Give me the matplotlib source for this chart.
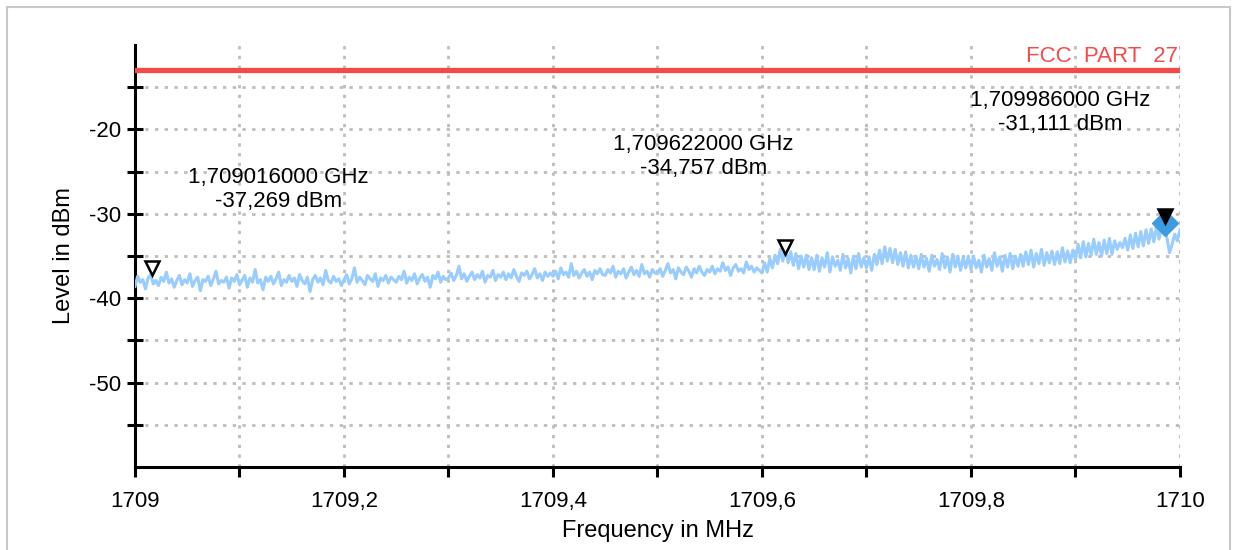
import matplotlib.pyplot as plt
import matplotlib.transforms as mtransforms
from matplotlib.patches import Rectangle
import numpy as np

plt.rcParams['font.family'] = ['Liberation Sans', 'DejaVu Sans']
plt.rcParams['axes.unicode_minus'] = False

# spectrum trace, 1709.000 .. 1710.000 MHz, step 0.0025 MHz
freq_start = 1709.0
freq_step = 0.0025
level = [
    -38.6, -37.4, -38.1, -37.8, -38.9, -37.6, -37.2, -38.3, -37.9, -38.5,
    -37.5, -38.0, -36.9, -38.2, -37.7, -38.7, -37.9, -37.3, -38.4, -37.8,
    -38.2, -37.1, -38.6, -37.9, -37.5, -39.1, -37.8, -38.0, -37.4, -38.5,
    -37.7, -36.8, -38.3, -37.9, -38.1, -37.5, -38.8, -37.6, -38.0, -37.2,
    -38.4, -37.9, -37.3, -38.7, -37.6, -38.1, -36.6, -38.2, -37.8, -39.0,
    -37.5, -38.0, -37.4, -38.3, -37.7, -36.9, -38.5, -37.8, -38.1, -37.3,
    -38.0, -37.6, -38.6, -37.2, -37.9, -38.3, -37.5, -39.2, -37.8, -37.3,
    -38.1, -37.6, -38.4, -36.7, -37.9, -38.2, -37.4, -38.0, -37.7, -38.5,
    -37.8, -37.2, -38.3, -37.7, -36.4, -38.1, -37.5, -37.9, -38.4, -37.3,
    -37.7, -38.0, -37.1, -38.6, -37.6, -37.9, -37.3, -38.2, -37.5, -37.8,
    -38.1, -37.4, -37.8, -36.8, -38.2, -37.5, -37.9, -37.1, -38.3, -37.6,
    -37.2, -38.0, -37.5, -38.7, -37.3, -37.7, -36.9, -38.1, -37.4, -37.8,
    -37.6, -37.0, -37.9, -37.3, -36.2, -37.7, -37.1, -38.0, -37.4, -36.9,
    -37.8, -37.2, -37.6, -36.8, -38.1, -37.3, -37.5, -36.7, -37.9, -37.2,
    -37.5, -36.9, -37.8, -37.1, -37.6, -36.6, -37.4, -38.0, -37.0, -37.3,
    -36.8, -37.7, -37.2, -36.5, -37.6, -37.1, -37.9, -36.9, -37.4, -37.0,
    -37.4, -36.8, -37.7, -36.4, -37.2, -36.9, -37.5, -35.9, -37.3, -36.8,
    -37.6, -37.0, -36.6, -37.4, -36.9, -37.8, -36.7, -37.1, -36.5, -37.2,
    -37.3, -36.6, -37.0, -36.2, -37.5, -36.8, -37.1, -36.5, -37.6, -36.9,
    -36.3, -37.2, -36.7, -37.4, -36.0, -37.1, -36.8, -37.5, -36.6, -37.0,
    -37.1, -36.5, -37.4, -36.7, -35.9, -37.0, -36.6, -37.7, -36.4, -36.9,
    -37.2, -36.3, -36.8, -37.5, -36.5, -37.0, -36.2, -36.9, -37.3, -36.6,
    -36.9, -36.2, -37.1, -36.5, -36.8, -35.8, -36.7, -36.3, -37.3, -36.4,
    -36.0, -36.8, -36.5, -37.0, -35.7, -36.6, -36.2, -36.9, -36.4, -36.7,
    -37.0, -35.8, -36.9, -35.3, -36.4, -34.9, -35.9, -34.2, -35.6, -34.0,
    -35.8, -34.5, -36.1, -34.7, -36.5, -35.0, -36.3, -34.9, -36.6, -35.2,
    -36.6, -34.9, -36.8, -35.2, -36.3, -34.6, -36.9, -35.1, -36.2, -35.5,
    -36.7, -34.8, -36.4, -35.3, -37.0, -35.0, -36.5, -34.7, -36.3, -35.2,
    -36.4, -35.1, -36.7, -34.8, -36.0, -34.3, -35.9, -33.9, -35.6, -34.1,
    -35.8, -34.2, -36.0, -34.6, -36.2, -34.5, -36.4, -34.9, -36.3, -35.0,
    -36.5, -34.8, -36.3, -35.3, -36.8, -34.9, -36.2, -35.4, -36.6, -34.7,
    -36.4, -35.1, -36.9, -34.8, -36.3, -35.0, -36.7, -35.2, -36.4, -35.0,
    -36.6, -35.0, -36.4, -35.5, -36.9, -34.9, -36.3, -35.3, -36.7, -34.6,
    -36.2, -35.1, -36.8, -34.9, -36.3, -34.7, -36.5, -35.0, -36.2, -34.8,
    -36.2, -34.5, -36.0, -34.3, -36.3, -34.7, -35.9, -34.2, -36.1, -34.6,
    -35.8, -34.4, -36.0, -34.5, -35.9, -34.0, -35.7, -34.4, -35.8, -34.3,
    -35.4, -33.6, -35.2, -33.3, -35.1, -33.5, -34.9, -33.0, -34.8, -33.4,
    -35.0, -33.1, -34.7, -32.9, -34.8, -33.2, -34.2, -33.4, -34.0, -32.9,
    -34.3, -32.5, -34.1, -32.3, -33.9, -32.1, -33.8, -31.9, -33.5, -31.8,
    -33.3, -31.5, -33.0, -31.4, -31.2, -32.8, -34.6, -33.6, -32.4, -33.2,
    -31.9,
]
freq = freq_start + freq_step * np.arange(len(level))

# markers
marker_freq = [1709.016, 1709.622, 1709.986]
marker_level = [-37.269, -34.757, -31.111]
marker_text = ["1,709016000 GHz\n-37,269 dBm",
               "1,709622000 GHz\n-34,757 dBm",
               "1,709986000 GHz\n-31,111 dBm"]
text_pos = [(1709.137, -27.1), (1709.544, -23.2), (1709.885, -18.0)]

limit_level = -13
limit_name = "FCC  PART  27"

x_ticks = [1709.0, 1709.2, 1709.4, 1709.6, 1709.8, 1710.0]
x_labels = ["1709", "1709,2", "1709,4", "1709,6", "1709,8", "1710"]
y_ticks = [-50, -40, -30, -20]

fig = plt.figure(figsize=(12.34, 5.5), dpi=100)
ax = fig.add_axes([0.1094, 0.1509, 0.9562 - 0.1094, 0.918 - 0.1509])

# outer frame of the screenshot
fig.patches.append(Rectangle((7 / 1234, -0.05), (1230 - 7) / 1234, 1.05 - 7 / 550,
                             transform=fig.transFigure, fill=False,
                             edgecolor='#c8c8c8', lw=1.5))

ax.plot(freq, level, color='#99ccff', lw=2.2, zorder=3)
ax.axhline(limit_level, color='#f44a4a', lw=3.8, zorder=4)
ax.text(1709.998, limit_level + 0.35, limit_name, color='#f44a4a', fontsize=16,
        ha='right', va='bottom')

up = mtransforms.offset_copy(ax.transData, fig=fig, x=0, y=7, units='dots')
ax.plot(marker_freq[:2], marker_level[:2], 'v', ms=10, mfc='white', mec='black',
        mew=1.8, transform=up, zorder=6, clip_on=False)
ax.plot(marker_freq[2], marker_level[2], 'D', ms=13, color='#3d9be0', zorder=5)
ax.plot(marker_freq[2], marker_level[2], 'v', ms=10, color='black', mec='black',
        mew=1.8, transform=up, zorder=6)

for (tx, ty), txt in zip(text_pos, marker_text):
    ax.text(tx, ty, txt, ha='center', va='center', fontsize=16, linespacing=1.15)

ax.set_xlim(1709, 1710)
ax.set_ylim(-60, -10)
ax.set_xticks(x_ticks)
ax.set_xticklabels(x_labels)
ax.set_xticks(np.arange(1709.1, 1710.0, 0.2), minor=True)
ax.set_yticks(y_ticks)
ax.set_yticks([-55, -45, -35, -25, -15], minor=True)

for s in ['top', 'right']:
    ax.spines[s].set_visible(False)
for s in ['left', 'bottom']:
    ax.spines[s].set_linewidth(2.2)
ax.tick_params(which='both', direction='inout', length=12, width=2.2,
               labelsize=16, pad=4)
ax.tick_params(axis='x', which='both', direction='out', length=7, pad=10)

grid_style = dict(color='#bdbdbd', lw=2, linestyle=(0, (1.2, 2.3)))
ax.grid(True, which='both', **grid_style)
ax.axvline(1710, zorder=0, **grid_style)

ax.set_xlabel("Frequency in MHz", fontsize=17, labelpad=6)
ax.set_ylabel("Level in dBm", fontsize=17, labelpad=10)

fig.savefig("out.png", dpi=100)
